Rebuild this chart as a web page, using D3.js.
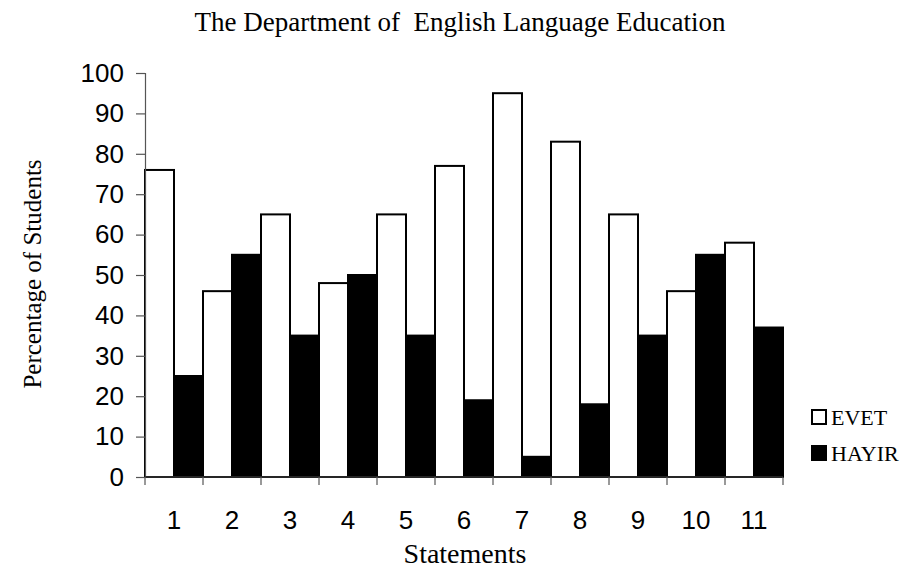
<!DOCTYPE html>
<html>
<head>
<meta charset="utf-8">
<script src="https://cdn.jsdelivr.net/npm/d3@7"></script>
<style>
  body { margin: 0; background: #fff; }
  svg { display: block; }
</style>
</head>
<body>
<svg id="chart" width="909" height="571"></svg>
<script>
var statements = ["1","2","3","4","5","6","7","8","9","10","11"];
var evet  = [76, 46, 65, 48, 65, 77, 95, 83, 65, 46, 58];
var hayir = [25, 55, 35, 50, 35, 19,  5, 18, 35, 55, 37];
var seriesNames = ["EVET", "HAYIR"];
var yTicks = [0,10,20,30,40,50,60,70,80,90,100];

var svg = d3.select("#chart");
var plotLeft = 145, plotRight = 783, plotTop = 73, plotBottom = 477;
var serif = "Liberation Serif, Times New Roman, serif";
var sans = "Liberation Sans, Arial, sans-serif";

var x = d3.scaleBand().domain(statements).range([plotLeft, plotRight]).padding(0);
var x1 = d3.scaleBand().domain(seriesNames).range([0, x.bandwidth()]).padding(0);
var y = d3.scaleLinear().domain([0, 100]).range([plotBottom, plotTop]);

// title
svg.append("text")
  .attr("x", 460).attr("y", 31)
  .attr("text-anchor", "middle")
  .attr("font-family", serif)
  .attr("font-size", 27)
  .style("white-space", "pre")
  .text("The Department of  English Language Education");

// bars
var rows = statements.map(function(s, i) {
  return { s: s, vals: [{k: "EVET", v: evet[i]}, {k: "HAYIR", v: hayir[i]}] };
});

var g = svg.append("g");
g.selectAll("g.cat")
  .data(rows)
  .enter().append("g")
    .attr("class", "cat")
    .attr("transform", function(d) { return "translate(" + x(d.s) + ",0)"; })
  .selectAll("rect")
  .data(function(d) { return d.vals; })
  .enter().append("rect")
    .attr("x", function(d) { return x1(d.k); })
    .attr("y", function(d) { return y(d.v); })
    .attr("width", x1.bandwidth())
    .attr("height", function(d) { return plotBottom - y(d.v); })
    .attr("fill", function(d) { return d.k == "EVET" ? "#fff" : "#000"; })
    .attr("stroke", "#000")
    .attr("stroke-width", 2);

// y axis
var yAxis = d3.axisLeft(y).tickValues(yTicks).tickSize(9).tickPadding(12);
var ya = svg.append("g")
  .attr("transform", "translate(" + plotLeft + ",0)")
  .call(yAxis);
ya.selectAll("text")
  .attr("font-family", sans)
  .attr("font-size", 26)
  .attr("fill", "#000");
ya.select(".domain").attr("stroke", "#555").attr("stroke-width", 1.2);
ya.selectAll(".tick line").attr("stroke", "#555").attr("stroke-width", 1.2);

// x axis: ticks on category boundaries, labels at centers
var xa = svg.append("g");
xa.append("line")
  .attr("x1", plotLeft).attr("x2", plotRight)
  .attr("y1", plotBottom).attr("y2", plotBottom)
  .attr("stroke", "#333").attr("stroke-width", 1.5);
var bounds = statements.map(function(s) { return x(s); }).concat([plotRight]);
xa.selectAll("line.tk")
  .data(bounds)
  .enter().append("line")
    .attr("class", "tk")
    .attr("x1", function(d) { return d; }).attr("x2", function(d) { return d; })
    .attr("y1", plotBottom).attr("y2", plotBottom + 8)
    .attr("stroke", "#555").attr("stroke-width", 1.2);
xa.selectAll("text")
  .data(statements)
  .enter().append("text")
    .attr("x", function(d) { return x(d) + x.bandwidth() / 2; })
    .attr("y", 529)
    .attr("text-anchor", "middle")
    .attr("font-family", sans)
    .attr("font-size", 26)
    .text(function(d) { return d; });

// axis titles
svg.append("text")
  .attr("x", 465).attr("y", 563)
  .attr("text-anchor", "middle")
  .attr("font-family", serif)
  .attr("font-size", 28)
  .text("Statements");

svg.append("text")
  .attr("transform", "translate(41,274) rotate(-90)")
  .attr("text-anchor", "middle")
  .attr("font-family", serif)
  .attr("font-size", 25)
  .text("Percentage of Students");

// legend
var legend = svg.append("g");
seriesNames.forEach(function(n, i) {
  var ly = 410 + i * 36;
  legend.append("rect")
    .attr("x", 812).attr("y", ly)
    .attr("width", 14).attr("height", 14)
    .attr("fill", n == "EVET" ? "#fff" : "#000")
    .attr("stroke", "#000").attr("stroke-width", 2);
  legend.append("text")
    .attr("x", 831).attr("y", ly + 15)
    .attr("font-family", serif)
    .attr("font-size", 22)
    .text(n);
});
</script>
</body>
</html>
